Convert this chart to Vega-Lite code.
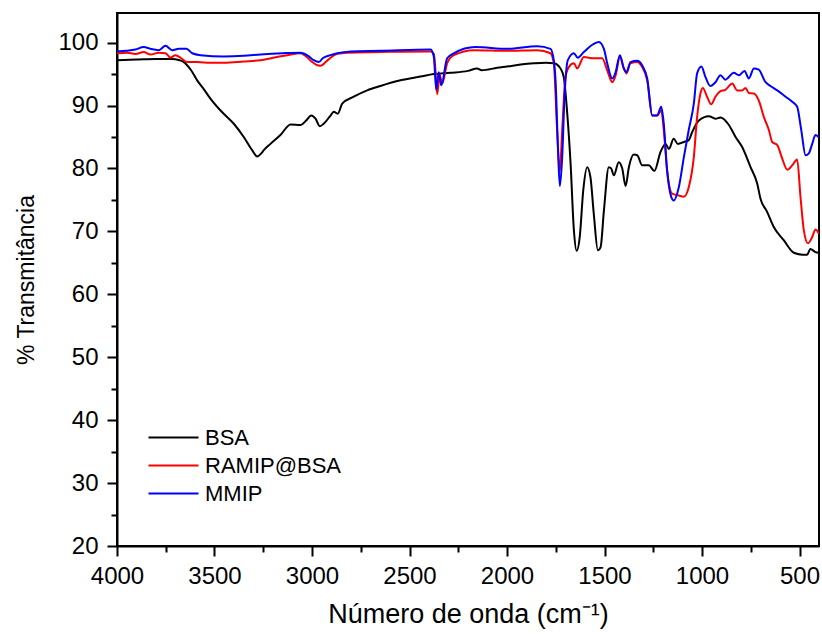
{
  "$schema": "https://vega.github.io/schema/vega-lite/v6.json",
  "width": 702,
  "height": 533,
  "autosize": {"type": "none"},
  "padding": {"left": 117, "top": 13, "right": 3, "bottom": 93},
  "background": "white",
  "config": {
    "view": {"stroke": "black", "strokeWidth": 2},
    "font": "Liberation Sans",
    "axis": {
      "grid": false,
      "domainColor": "black",
      "domainWidth": 2,
      "tickColor": "black",
      "tickWidth": 2,
      "labelColor": "black",
      "titleColor": "black",
      "labelFont": "Liberation Sans",
      "titleFont": "Liberation Sans",
      "labelFontSize": 24,
      "titleFontWeight": "normal",
      "labelFlush": false
    }
  },
  "datasets": {
    "spectra": [
      {"w": 4000, "t": 97.2, "s": "BSA"},
      {"w": 3900, "t": 97.3, "s": "BSA"},
      {"w": 3800, "t": 97.4, "s": "BSA"},
      {"w": 3720, "t": 97.4, "s": "BSA"},
      {"w": 3680, "t": 97.2, "s": "BSA"},
      {"w": 3657, "t": 96.9, "s": "BSA"},
      {"w": 3620, "t": 95.6, "s": "BSA"},
      {"w": 3589, "t": 94.0, "s": "BSA"},
      {"w": 3555, "t": 92.6, "s": "BSA"},
      {"w": 3521, "t": 91.1, "s": "BSA"},
      {"w": 3469, "t": 89.2, "s": "BSA"},
      {"w": 3401, "t": 87.1, "s": "BSA"},
      {"w": 3350, "t": 85.0, "s": "BSA"},
      {"w": 3307, "t": 82.9, "s": "BSA"},
      {"w": 3281, "t": 81.9, "s": "BSA"},
      {"w": 3260, "t": 82.4, "s": "BSA"},
      {"w": 3247, "t": 82.9, "s": "BSA"},
      {"w": 3213, "t": 83.9, "s": "BSA"},
      {"w": 3162, "t": 85.3, "s": "BSA"},
      {"w": 3110, "t": 87.0, "s": "BSA"},
      {"w": 3059, "t": 86.9, "s": "BSA"},
      {"w": 3030, "t": 87.6, "s": "BSA"},
      {"w": 3004, "t": 88.4, "s": "BSA"},
      {"w": 2982, "t": 87.9, "s": "BSA"},
      {"w": 2960, "t": 86.7, "s": "BSA"},
      {"w": 2940, "t": 87.1, "s": "BSA"},
      {"w": 2905, "t": 88.4, "s": "BSA"},
      {"w": 2888, "t": 89.0, "s": "BSA"},
      {"w": 2868, "t": 88.7, "s": "BSA"},
      {"w": 2845, "t": 90.3, "s": "BSA"},
      {"w": 2786, "t": 91.4, "s": "BSA"},
      {"w": 2717, "t": 92.4, "s": "BSA"},
      {"w": 2649, "t": 93.1, "s": "BSA"},
      {"w": 2546, "t": 94.0, "s": "BSA"},
      {"w": 2444, "t": 94.6, "s": "BSA"},
      {"w": 2375, "t": 95.0, "s": "BSA"},
      {"w": 2290, "t": 95.2, "s": "BSA"},
      {"w": 2200, "t": 95.5, "s": "BSA"},
      {"w": 2153, "t": 95.9, "s": "BSA"},
      {"w": 2130, "t": 95.6, "s": "BSA"},
      {"w": 2050, "t": 96.0, "s": "BSA"},
      {"w": 1999, "t": 96.2, "s": "BSA"},
      {"w": 1930, "t": 96.5, "s": "BSA"},
      {"w": 1863, "t": 96.7, "s": "BSA"},
      {"w": 1800, "t": 96.8, "s": "BSA"},
      {"w": 1760, "t": 96.7, "s": "BSA"},
      {"w": 1743, "t": 96.5, "s": "BSA"},
      {"w": 1726, "t": 95.9, "s": "BSA"},
      {"w": 1709, "t": 94.5, "s": "BSA"},
      {"w": 1691, "t": 88.7, "s": "BSA"},
      {"w": 1674, "t": 80.8, "s": "BSA"},
      {"w": 1657, "t": 70.2, "s": "BSA"},
      {"w": 1643, "t": 66.9, "s": "BSA"},
      {"w": 1627, "t": 69.1, "s": "BSA"},
      {"w": 1609, "t": 76.5, "s": "BSA"},
      {"w": 1589, "t": 80.2, "s": "BSA"},
      {"w": 1572, "t": 78.6, "s": "BSA"},
      {"w": 1555, "t": 72.8, "s": "BSA"},
      {"w": 1534, "t": 67.0, "s": "BSA"},
      {"w": 1520, "t": 67.5, "s": "BSA"},
      {"w": 1503, "t": 73.3, "s": "BSA"},
      {"w": 1478, "t": 80.2, "s": "BSA"},
      {"w": 1466, "t": 80.0, "s": "BSA"},
      {"w": 1452, "t": 78.9, "s": "BSA"},
      {"w": 1427, "t": 81.0, "s": "BSA"},
      {"w": 1409, "t": 80.0, "s": "BSA"},
      {"w": 1392, "t": 77.2, "s": "BSA"},
      {"w": 1375, "t": 80.2, "s": "BSA"},
      {"w": 1350, "t": 82.2, "s": "BSA"},
      {"w": 1332, "t": 82.1, "s": "BSA"},
      {"w": 1307, "t": 80.5, "s": "BSA"},
      {"w": 1273, "t": 80.5, "s": "BSA"},
      {"w": 1244, "t": 79.6, "s": "BSA"},
      {"w": 1213, "t": 82.6, "s": "BSA"},
      {"w": 1187, "t": 83.9, "s": "BSA"},
      {"w": 1170, "t": 83.1, "s": "BSA"},
      {"w": 1145, "t": 84.7, "s": "BSA"},
      {"w": 1124, "t": 83.9, "s": "BSA"},
      {"w": 1093, "t": 84.2, "s": "BSA"},
      {"w": 1068, "t": 84.5, "s": "BSA"},
      {"w": 1050, "t": 85.8, "s": "BSA"},
      {"w": 1016, "t": 87.6, "s": "BSA"},
      {"w": 965, "t": 88.3, "s": "BSA"},
      {"w": 931, "t": 87.9, "s": "BSA"},
      {"w": 905, "t": 88.1, "s": "BSA"},
      {"w": 862, "t": 86.9, "s": "BSA"},
      {"w": 828, "t": 85.0, "s": "BSA"},
      {"w": 794, "t": 83.4, "s": "BSA"},
      {"w": 751, "t": 80.2, "s": "BSA"},
      {"w": 717, "t": 77.6, "s": "BSA"},
      {"w": 700, "t": 75.2, "s": "BSA"},
      {"w": 666, "t": 73.1, "s": "BSA"},
      {"w": 632, "t": 70.7, "s": "BSA"},
      {"w": 581, "t": 68.6, "s": "BSA"},
      {"w": 529, "t": 66.6, "s": "BSA"},
      {"w": 486, "t": 66.3, "s": "BSA"},
      {"w": 461, "t": 66.3, "s": "BSA"},
      {"w": 444, "t": 67.2, "s": "BSA"},
      {"w": 418, "t": 66.7, "s": "BSA"},
      {"w": 400, "t": 66.6, "s": "BSA"},

      {"w": 4000, "t": 98.3, "s": "RAMIP@BSA"},
      {"w": 3950, "t": 98.4, "s": "RAMIP@BSA"},
      {"w": 3905, "t": 98.2, "s": "RAMIP@BSA"},
      {"w": 3863, "t": 98.5, "s": "RAMIP@BSA"},
      {"w": 3828, "t": 98.1, "s": "RAMIP@BSA"},
      {"w": 3786, "t": 98.4, "s": "RAMIP@BSA"},
      {"w": 3751, "t": 98.3, "s": "RAMIP@BSA"},
      {"w": 3726, "t": 97.6, "s": "RAMIP@BSA"},
      {"w": 3700, "t": 98.0, "s": "RAMIP@BSA"},
      {"w": 3670, "t": 97.5, "s": "RAMIP@BSA"},
      {"w": 3640, "t": 96.9, "s": "RAMIP@BSA"},
      {"w": 3589, "t": 96.9, "s": "RAMIP@BSA"},
      {"w": 3520, "t": 96.8, "s": "RAMIP@BSA"},
      {"w": 3452, "t": 96.8, "s": "RAMIP@BSA"},
      {"w": 3350, "t": 97.0, "s": "RAMIP@BSA"},
      {"w": 3264, "t": 97.2, "s": "RAMIP@BSA"},
      {"w": 3180, "t": 97.7, "s": "RAMIP@BSA"},
      {"w": 3127, "t": 98.0, "s": "RAMIP@BSA"},
      {"w": 3059, "t": 98.3, "s": "RAMIP@BSA"},
      {"w": 3030, "t": 97.8, "s": "RAMIP@BSA"},
      {"w": 2999, "t": 96.9, "s": "RAMIP@BSA"},
      {"w": 2980, "t": 96.5, "s": "RAMIP@BSA"},
      {"w": 2956, "t": 96.3, "s": "RAMIP@BSA"},
      {"w": 2930, "t": 96.9, "s": "RAMIP@BSA"},
      {"w": 2905, "t": 97.6, "s": "RAMIP@BSA"},
      {"w": 2871, "t": 98.2, "s": "RAMIP@BSA"},
      {"w": 2820, "t": 98.4, "s": "RAMIP@BSA"},
      {"w": 2649, "t": 98.5, "s": "RAMIP@BSA"},
      {"w": 2392, "t": 98.6, "s": "RAMIP@BSA"},
      {"w": 2375, "t": 98.2, "s": "RAMIP@BSA"},
      {"w": 2367, "t": 95.6, "s": "RAMIP@BSA"},
      {"w": 2358, "t": 91.8, "s": "RAMIP@BSA"},
      {"w": 2345, "t": 94.8, "s": "RAMIP@BSA"},
      {"w": 2332, "t": 93.5, "s": "RAMIP@BSA"},
      {"w": 2307, "t": 96.7, "s": "RAMIP@BSA"},
      {"w": 2273, "t": 98.0, "s": "RAMIP@BSA"},
      {"w": 2170, "t": 98.8, "s": "RAMIP@BSA"},
      {"w": 1999, "t": 98.7, "s": "RAMIP@BSA"},
      {"w": 1845, "t": 98.8, "s": "RAMIP@BSA"},
      {"w": 1777, "t": 98.3, "s": "RAMIP@BSA"},
      {"w": 1760, "t": 96.7, "s": "RAMIP@BSA"},
      {"w": 1743, "t": 86.1, "s": "RAMIP@BSA"},
      {"w": 1729, "t": 79.5, "s": "RAMIP@BSA"},
      {"w": 1717, "t": 86.1, "s": "RAMIP@BSA"},
      {"w": 1700, "t": 94.5, "s": "RAMIP@BSA"},
      {"w": 1683, "t": 96.1, "s": "RAMIP@BSA"},
      {"w": 1657, "t": 96.7, "s": "RAMIP@BSA"},
      {"w": 1640, "t": 95.9, "s": "RAMIP@BSA"},
      {"w": 1606, "t": 97.7, "s": "RAMIP@BSA"},
      {"w": 1555, "t": 97.5, "s": "RAMIP@BSA"},
      {"w": 1512, "t": 97.5, "s": "RAMIP@BSA"},
      {"w": 1486, "t": 95.6, "s": "RAMIP@BSA"},
      {"w": 1460, "t": 93.7, "s": "RAMIP@BSA"},
      {"w": 1443, "t": 94.8, "s": "RAMIP@BSA"},
      {"w": 1421, "t": 97.7, "s": "RAMIP@BSA"},
      {"w": 1401, "t": 95.9, "s": "RAMIP@BSA"},
      {"w": 1387, "t": 95.1, "s": "RAMIP@BSA"},
      {"w": 1367, "t": 96.7, "s": "RAMIP@BSA"},
      {"w": 1332, "t": 96.9, "s": "RAMIP@BSA"},
      {"w": 1307, "t": 96.1, "s": "RAMIP@BSA"},
      {"w": 1281, "t": 94.0, "s": "RAMIP@BSA"},
      {"w": 1255, "t": 88.4, "s": "RAMIP@BSA"},
      {"w": 1230, "t": 88.4, "s": "RAMIP@BSA"},
      {"w": 1209, "t": 89.2, "s": "RAMIP@BSA"},
      {"w": 1196, "t": 86.1, "s": "RAMIP@BSA"},
      {"w": 1179, "t": 79.7, "s": "RAMIP@BSA"},
      {"w": 1153, "t": 76.0, "s": "RAMIP@BSA"},
      {"w": 1119, "t": 75.7, "s": "RAMIP@BSA"},
      {"w": 1093, "t": 75.5, "s": "RAMIP@BSA"},
      {"w": 1068, "t": 77.0, "s": "RAMIP@BSA"},
      {"w": 1042, "t": 81.8, "s": "RAMIP@BSA"},
      {"w": 1025, "t": 88.2, "s": "RAMIP@BSA"},
      {"w": 1008, "t": 91.9, "s": "RAMIP@BSA"},
      {"w": 996, "t": 92.8, "s": "RAMIP@BSA"},
      {"w": 974, "t": 91.4, "s": "RAMIP@BSA"},
      {"w": 953, "t": 90.2, "s": "RAMIP@BSA"},
      {"w": 931, "t": 91.4, "s": "RAMIP@BSA"},
      {"w": 905, "t": 92.3, "s": "RAMIP@BSA"},
      {"w": 880, "t": 92.5, "s": "RAMIP@BSA"},
      {"w": 845, "t": 93.5, "s": "RAMIP@BSA"},
      {"w": 820, "t": 92.4, "s": "RAMIP@BSA"},
      {"w": 794, "t": 92.4, "s": "RAMIP@BSA"},
      {"w": 777, "t": 92.8, "s": "RAMIP@BSA"},
      {"w": 760, "t": 92.0, "s": "RAMIP@BSA"},
      {"w": 734, "t": 91.9, "s": "RAMIP@BSA"},
      {"w": 709, "t": 90.8, "s": "RAMIP@BSA"},
      {"w": 683, "t": 88.2, "s": "RAMIP@BSA"},
      {"w": 657, "t": 86.1, "s": "RAMIP@BSA"},
      {"w": 640, "t": 84.2, "s": "RAMIP@BSA"},
      {"w": 614, "t": 83.7, "s": "RAMIP@BSA"},
      {"w": 589, "t": 81.6, "s": "RAMIP@BSA"},
      {"w": 563, "t": 79.8, "s": "RAMIP@BSA"},
      {"w": 537, "t": 80.5, "s": "RAMIP@BSA"},
      {"w": 512, "t": 81.4, "s": "RAMIP@BSA"},
      {"w": 495, "t": 75.5, "s": "RAMIP@BSA"},
      {"w": 478, "t": 70.2, "s": "RAMIP@BSA"},
      {"w": 457, "t": 68.1, "s": "RAMIP@BSA"},
      {"w": 435, "t": 69.1, "s": "RAMIP@BSA"},
      {"w": 418, "t": 70.3, "s": "RAMIP@BSA"},
      {"w": 400, "t": 69.6, "s": "RAMIP@BSA"},

      {"w": 4000, "t": 98.6, "s": "MMIP"},
      {"w": 3950, "t": 98.7, "s": "MMIP"},
      {"w": 3905, "t": 98.9, "s": "MMIP"},
      {"w": 3863, "t": 99.3, "s": "MMIP"},
      {"w": 3828, "t": 99.0, "s": "MMIP"},
      {"w": 3786, "t": 98.8, "s": "MMIP"},
      {"w": 3751, "t": 99.5, "s": "MMIP"},
      {"w": 3717, "t": 98.8, "s": "MMIP"},
      {"w": 3683, "t": 99.0, "s": "MMIP"},
      {"w": 3644, "t": 99.0, "s": "MMIP"},
      {"w": 3614, "t": 98.3, "s": "MMIP"},
      {"w": 3572, "t": 98.0, "s": "MMIP"},
      {"w": 3452, "t": 97.8, "s": "MMIP"},
      {"w": 3350, "t": 97.9, "s": "MMIP"},
      {"w": 3264, "t": 98.1, "s": "MMIP"},
      {"w": 3150, "t": 98.3, "s": "MMIP"},
      {"w": 3059, "t": 98.4, "s": "MMIP"},
      {"w": 3020, "t": 97.9, "s": "MMIP"},
      {"w": 2991, "t": 97.2, "s": "MMIP"},
      {"w": 2965, "t": 96.9, "s": "MMIP"},
      {"w": 2945, "t": 97.5, "s": "MMIP"},
      {"w": 2905, "t": 98.0, "s": "MMIP"},
      {"w": 2871, "t": 98.3, "s": "MMIP"},
      {"w": 2800, "t": 98.6, "s": "MMIP"},
      {"w": 2649, "t": 98.7, "s": "MMIP"},
      {"w": 2392, "t": 98.9, "s": "MMIP"},
      {"w": 2375, "t": 97.7, "s": "MMIP"},
      {"w": 2363, "t": 92.5, "s": "MMIP"},
      {"w": 2350, "t": 95.3, "s": "MMIP"},
      {"w": 2337, "t": 93.2, "s": "MMIP"},
      {"w": 2307, "t": 97.5, "s": "MMIP"},
      {"w": 2273, "t": 98.3, "s": "MMIP"},
      {"w": 2162, "t": 99.3, "s": "MMIP"},
      {"w": 1999, "t": 99.0, "s": "MMIP"},
      {"w": 1845, "t": 99.4, "s": "MMIP"},
      {"w": 1777, "t": 99.0, "s": "MMIP"},
      {"w": 1760, "t": 97.2, "s": "MMIP"},
      {"w": 1751, "t": 94.0, "s": "MMIP"},
      {"w": 1739, "t": 83.4, "s": "MMIP"},
      {"w": 1729, "t": 77.2, "s": "MMIP"},
      {"w": 1717, "t": 81.8, "s": "MMIP"},
      {"w": 1705, "t": 91.4, "s": "MMIP"},
      {"w": 1688, "t": 97.2, "s": "MMIP"},
      {"w": 1657, "t": 98.3, "s": "MMIP"},
      {"w": 1637, "t": 97.6, "s": "MMIP"},
      {"w": 1606, "t": 98.5, "s": "MMIP"},
      {"w": 1555, "t": 99.8, "s": "MMIP"},
      {"w": 1529, "t": 100.1, "s": "MMIP"},
      {"w": 1503, "t": 99.0, "s": "MMIP"},
      {"w": 1486, "t": 96.7, "s": "MMIP"},
      {"w": 1460, "t": 94.3, "s": "MMIP"},
      {"w": 1443, "t": 95.3, "s": "MMIP"},
      {"w": 1421, "t": 98.0, "s": "MMIP"},
      {"w": 1401, "t": 95.9, "s": "MMIP"},
      {"w": 1387, "t": 95.3, "s": "MMIP"},
      {"w": 1367, "t": 96.9, "s": "MMIP"},
      {"w": 1332, "t": 97.1, "s": "MMIP"},
      {"w": 1307, "t": 96.4, "s": "MMIP"},
      {"w": 1281, "t": 94.3, "s": "MMIP"},
      {"w": 1255, "t": 88.4, "s": "MMIP"},
      {"w": 1230, "t": 88.4, "s": "MMIP"},
      {"w": 1209, "t": 89.8, "s": "MMIP"},
      {"w": 1196, "t": 87.1, "s": "MMIP"},
      {"w": 1179, "t": 79.7, "s": "MMIP"},
      {"w": 1158, "t": 75.5, "s": "MMIP"},
      {"w": 1145, "t": 74.9, "s": "MMIP"},
      {"w": 1119, "t": 77.0, "s": "MMIP"},
      {"w": 1093, "t": 81.8, "s": "MMIP"},
      {"w": 1068, "t": 86.1, "s": "MMIP"},
      {"w": 1042, "t": 90.3, "s": "MMIP"},
      {"w": 1025, "t": 95.1, "s": "MMIP"},
      {"w": 1003, "t": 96.2, "s": "MMIP"},
      {"w": 982, "t": 94.5, "s": "MMIP"},
      {"w": 957, "t": 93.1, "s": "MMIP"},
      {"w": 931, "t": 93.7, "s": "MMIP"},
      {"w": 905, "t": 94.8, "s": "MMIP"},
      {"w": 880, "t": 94.1, "s": "MMIP"},
      {"w": 837, "t": 95.2, "s": "MMIP"},
      {"w": 811, "t": 94.8, "s": "MMIP"},
      {"w": 782, "t": 95.5, "s": "MMIP"},
      {"w": 760, "t": 94.3, "s": "MMIP"},
      {"w": 734, "t": 95.9, "s": "MMIP"},
      {"w": 709, "t": 95.7, "s": "MMIP"},
      {"w": 674, "t": 93.7, "s": "MMIP"},
      {"w": 649, "t": 93.1, "s": "MMIP"},
      {"w": 614, "t": 92.4, "s": "MMIP"},
      {"w": 571, "t": 91.4, "s": "MMIP"},
      {"w": 537, "t": 90.6, "s": "MMIP"},
      {"w": 512, "t": 89.8, "s": "MMIP"},
      {"w": 491, "t": 86.1, "s": "MMIP"},
      {"w": 469, "t": 82.1, "s": "MMIP"},
      {"w": 452, "t": 82.4, "s": "MMIP"},
      {"w": 435, "t": 83.9, "s": "MMIP"},
      {"w": 418, "t": 85.3, "s": "MMIP"},
      {"w": 400, "t": 84.9, "s": "MMIP"}
    ]
  },
  "data": {"name": "spectra"},
  "layer": [
    {
      "mark": {"type": "line", "strokeWidth": 2, "clip": true, "interpolate": "monotone"},
      "encoding": {
        "x": {
          "field": "w", "type": "quantitative",
          "scale": {"domain": [400, 4000], "reverse": true, "nice": false, "zero": false},
          "axis": {
            "orient": "bottom",
            "values": [4000, 3500, 3000, 2500, 2000, 1500, 1000, 500],
            "format": "d",
            "tickSize": 10, "labelPadding": 8,
            "title": "Número de onda (cm⁻¹)", "titleFontSize": 27, "titlePadding": 13
          }
        },
        "y": {
          "field": "t", "type": "quantitative",
          "scale": {"domain": [20, 104.7], "nice": false, "zero": false},
          "axis": {
            "orient": "left",
            "values": [20, 30, 40, 50, 60, 70, 80, 90, 100],
            "format": "d",
            "tickSize": 10, "labelPadding": 9,
            "title": "% Transmitância", "titleFontSize": 23, "titlePadding": 19
          }
        },
        "color": {
          "field": "s", "type": "nominal",
          "sort": ["BSA", "RAMIP@BSA", "MMIP"],
          "scale": {"domain": ["BSA", "RAMIP@BSA", "MMIP"], "range": ["#000000", "#ff0000", "#0000ff"]},
          "legend": {
            "orient": "none", "legendX": 43, "legendY": 411,
            "title": null, "padding": 0,
            "symbolType": "M-2,0H2", "symbolSize": 625, "symbolStrokeWidth": 2,
            "labelFontSize": 22, "labelFont": "Liberation Sans", "labelColor": "black",
            "labelOffset": 18, "rowPadding": 3
          }
        }
      }
    },
    {
      "mark": {"type": "point", "opacity": 0, "clip": true},
      "encoding": {
        "x": {
          "field": "w", "type": "quantitative",
          "axis": {
            "orient": "bottom",
            "values": [3750, 3250, 2750, 2250, 1750, 1250, 750],
            "tickSize": 6, "labels": false, "domain": false, "title": null
          }
        },
        "y": {
          "field": "t", "type": "quantitative",
          "axis": {
            "orient": "left",
            "values": [25, 35, 45, 55, 65, 75, 85, 95],
            "tickSize": 6, "labels": false, "domain": false, "title": null
          }
        }
      }
    }
  ],
  "resolve": {"axis": {"x": "independent", "y": "independent"}}
}
